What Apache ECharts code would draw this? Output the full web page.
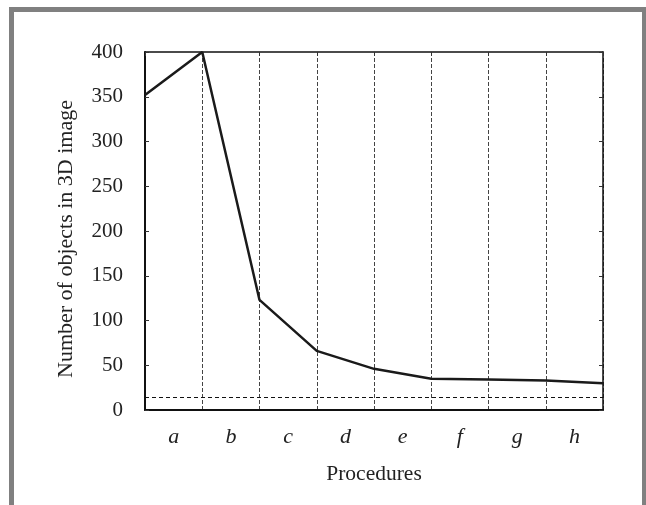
<!DOCTYPE html>
<html><head><meta charset="utf-8">
<script src="https://cdn.jsdelivr.net/npm/echarts@6/dist/echarts.min.js"></script>
<style>
html,body{margin:0;padding:0;background:#fff;}
#frame{position:absolute;left:9px;top:7px;width:628px;height:520px;border:5px solid #808080;border-bottom:none;box-sizing:content-box;}
#c{position:absolute;left:0;top:0;width:646px;height:505px;}
</style></head>
<body>
<div id="frame"></div>
<div id="c"></div>
<script>
const procedures = ['a','b','c','d','e','f','g','h'];
const positions = [0,1,2,3,4,5,6,7,8];
const objectCounts = [352,400,123,66,46,35,34,33,30];
const thresholdValue = 14;
const yTicks = {min:0, max:400, interval:50};

const chart = echarts.init(document.getElementById('c'), null, {renderer:'canvas'});
const serif = '"Liberation Serif","DejaVu Serif",serif';
chart.setOption({
  animation:false,
  backgroundColor:'transparent',
  grid:{left:145, right:43, top:52, bottom:95},
  xAxis:[
    {type:'value', min:0, max:8, interval:1, position:'bottom',
     axisLine:{show:true, onZero:false, lineStyle:{color:'#111', width:2}},
     axisTick:{show:false}, axisLabel:{show:false},
     splitLine:{show:true, lineStyle:{color:'#444', width:1, type:[4,2]}}},
    {type:'category', data:procedures, boundaryGap:true, position:'bottom',
     axisLine:{show:false}, axisTick:{show:false},
     axisLabel:{show:true, fontFamily:serif, fontStyle:'italic', fontSize:22, color:'#222', margin:16},
     name:'Procedures', nameLocation:'middle', nameGap:53,
     nameTextStyle:{fontFamily:serif, fontSize:21.5, color:'#222'}},
    {type:'value', min:0, max:8, interval:1, position:'top',
     axisLine:{show:true, onZero:false, lineStyle:{color:'#111', width:1.5}},
     axisTick:{show:true, inside:true, length:4, lineStyle:{color:'#333'}},
     axisLabel:{show:false}, splitLine:{show:false}}
  ],
  yAxis:[
    {type:'value', min:yTicks.min, max:yTicks.max, interval:yTicks.interval, position:'left',
     axisLine:{show:true, onZero:false, lineStyle:{color:'#111', width:2}},
     axisTick:{show:true, inside:true, length:4, lineStyle:{color:'#333'}},
     axisLabel:{show:true, fontFamily:serif, fontSize:21, color:'#222', margin:22},
     splitLine:{show:false},
     name:'Number of objects in 3D image', nameLocation:'middle', nameGap:68, nameRotate:90,
     nameTextStyle:{fontFamily:serif, fontSize:22, color:'#222', padding:[0,16,0,0]}},
    {type:'value', min:yTicks.min, max:yTicks.max, interval:yTicks.interval, position:'right',
     axisLine:{show:true, onZero:false, lineStyle:{color:'#111', width:1.5}},
     axisTick:{show:true, inside:true, length:4, lineStyle:{color:'#333'}},
     axisLabel:{show:false}, splitLine:{show:false}}
  ],
  series:[{
    type:'line', xAxisIndex:0, yAxisIndex:0,
    data: positions.map((p,i)=>[p, objectCounts[i]]),
    symbol:'none', lineStyle:{color:'#1a1a1a', width:2.5},
    markLine:{silent:true, symbol:'none', label:{show:false},
      lineStyle:{color:'#111', width:1, type:[4,3]},
      data:[{yAxis:thresholdValue}]}
  }]
});
</script>
</body></html>
